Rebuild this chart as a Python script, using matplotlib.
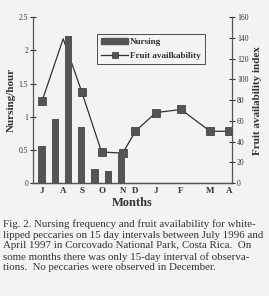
import matplotlib
matplotlib.use("Agg")
import matplotlib.pyplot as plt
from matplotlib.patches import Patch
from matplotlib.lines import Line2D

# Data
interval_idx = [0, 1, 2, 3, 4, 5, 6]                      # 15-day intervals (Jul 1996 ...)
nursing = [0.56, 0.97, 2.22, 0.85, 0.21, 0.18, 0.47]
fruit_x = [0, 1.6, 3.0, 4.5, 6.1, 7.05, 8.6, 10.5, 12.7, 14.1]
fruit = [79, 139, 88, 30, 29, 50, 68, 71, 50, 50]
month_labels = ["J", "A", "S", "O", "N", "D", "J", "F", "M", "A"]
caption = [
    "Fig. 2. Nursing frequency and fruit availability for white-",
    "lipped peccaries on 15 day intervals between July 1996 and",
    "April 1997 in Corcovado National Park, Costa Rica.  On",
    "some months there was only 15-day interval of observa-",
    "tions.  No peccaries were observed in December.",
]

bg = "#f3f3f5"
ink = "#333333"
barc = "#555555"
plt.rcParams["font.family"] = ["Liberation Serif", "DejaVu Serif"]

fig = plt.figure(figsize=(2.69, 2.96), dpi=100, facecolor=bg)
ax = fig.add_axes([0.1227, 0.381, 0.7398, 0.5615])
ax.set_facecolor("none")
ax2 = ax.twinx()

ax.bar(interval_idx, nursing, width=0.55, color=barc, zorder=3)
ax.set_ylim(0, 2.5)
ax.set_xlim(-0.68, 14.35)
ax.set_yticks([0, 0.5, 1, 1.5, 2, 2.5])
ax.set_yticklabels(["0", "0.5", "1", "1.5", "2", "2.5"])
ax.set_xticks(fruit_x)
ax.set_xticklabels(month_labels)

marked = [i for i in range(len(fruit)) if i != 1]
ax2.plot(fruit_x, fruit, color=ink, lw=0.9, marker="s", ms=5.5,
         mfc=barc, mec=ink, mew=0.5, markevery=marked, zorder=2)
ax2.set_ylim(0, 160)
ax2.set_yticks(range(0, 161, 20))

ax.set_zorder(ax2.get_zorder() + 1)

for a in (ax, ax2):
    a.spines["top"].set_visible(False)
    for s in a.spines.values():
        s.set_color("#555555")
        s.set_linewidth(0.9)
ax2.spines["left"].set_visible(False)
ax.spines["right"].set_visible(False)

ax.tick_params(axis="y", direction="inout", length=5, width=0.8, colors=ink,
               labelsize=5.5, pad=1)
ax.tick_params(axis="x", length=0, colors=ink, labelsize=6.5, pad=3)
ax2.tick_params(axis="y", direction="inout", length=5, width=0.8, colors=ink,
                labelsize=5.5, pad=1)
for lab in ax.get_xticklabels():
    lab.set_fontweight("bold")

ax.set_ylabel("Nursing/hour", fontsize=8, fontweight="bold", color=ink, labelpad=2)
ax2.set_ylabel("Fruit availability index", fontsize=8, fontweight="bold",
               color=ink, labelpad=3)
ax.set_xlabel("Months", fontsize=9, fontweight="bold", color=ink, labelpad=1)

handles = [Patch(facecolor=barc, edgecolor=barc),
           Line2D([0], [0], color=ink, lw=0.9, marker="s", ms=5, mfc=barc,
                  mec=ink, mew=0.5)]
leg = ax.legend(handles, ["Nursing", "Fruit availkability"], loc="upper left",
                bbox_to_anchor=(0.32, 0.9), fontsize=6.6, frameon=True,
                fancybox=False, handlelength=3.0, handleheight=0.6,
                borderpad=0.45, labelspacing=0.65, handletextpad=0.2,
                borderaxespad=0)
leg.get_frame().set_edgecolor("#222222")
leg.get_frame().set_linewidth(0.7)
leg.get_frame().set_facecolor(bg)
for t in leg.get_texts():
    t.set_fontweight("bold")
    t.set_color(ink)

y0 = 1 - 224 / 296
dy = 11 / 296
for i, line in enumerate(caption):
    fig.text(0.012, y0 - i * dy, line, fontsize=7.8, color=ink, va="center",
             ha="left")

fig.savefig("out.png", dpi=100, facecolor=bg)
